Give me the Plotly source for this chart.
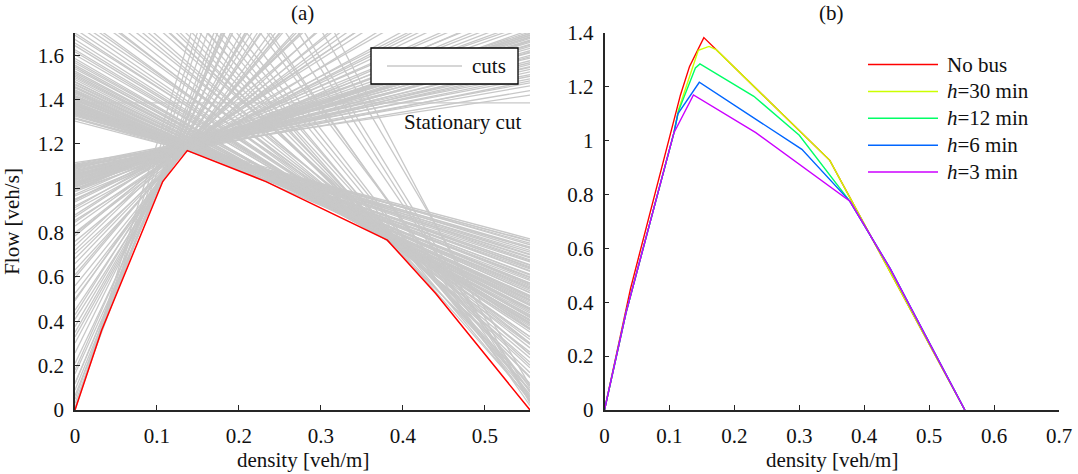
import plotly.graph_objects as go

# ---------------- data ----------------
KJ = 0.555  # jam density (end of left x-axis)

# cuts: flow at density 0 and at density KJ
CUT_Q0 = [
    # rising cuts (free-flow side)
    1.115, 1.095, 1.104, 1.067, 1.080, 1.064, 1.087, 1.043, 1.058, 1.043,
    1.059, 1.025, 1.041, 1.027, 1.042, 1.008, 1.024, 1.010, 1.036, 0.992,
    1.005, 0.985, 0.994, 0.951, 0.950, 0.920, 0.912, 0.855, 0.847, 0.796,
    0.785, 0.704, 0.683, 0.632, 0.597, 0.526, 0.493, 0.409, 0.376, 0.302,
    0.257, 0.163, 0.119, 0.064, 0.048, 0.002, 0.000,
    1.052, 1.033, 1.018, 1.047, 1.028, 1.061, 1.070, 1.076, 1.092, 1.102,
    1.108, 1.015, 0.998, 0.972, 0.965, 0.938, 0.902, 0.880, 0.830, 0.760,
    0.740, 0.660, 0.560, 0.450, 0.330, 0.210, 0.090, 0.030,
    1.098, 1.085, 1.072, 1.055, 1.050, 1.038, 1.022, 1.012, 0.990, 0.945,
    0.870, 0.800, 0.720, 0.610, 0.500, 0.430, 0.350, 0.180, 0.120, 0.010,
    # falling cuts (congested side)
    1.303, 1.317, 1.314, 1.341, 1.338, 1.334, 1.371, 1.358, 1.375, 1.362,
    1.379, 1.390, 1.411, 1.403, 1.444, 1.436, 1.458, 1.481, 1.539, 1.547,
    1.624, 1.671, 1.759, 1.795, 1.891, 1.957, 2.091, 2.176, 2.310, 2.383,
    2.491, 2.707, 2.965, 3.384, 3.919,
    1.325, 1.347, 1.332, 1.356, 1.349, 1.366, 1.352, 1.384, 1.372, 1.395,
    1.381, 1.402, 1.418, 1.425, 1.433, 1.452, 1.470, 1.466, 1.498, 1.512,
    1.528, 1.566, 1.585, 1.602, 1.643, 1.690, 1.718, 1.742, 1.830, 1.862,
    1.920, 2.012, 2.050, 2.140, 2.240, 2.420, 2.600, 2.800, 3.100, 3.600,
    1.313, 1.330, 1.345, 1.342, 1.360, 1.365, 1.380, 1.388, 1.398, 1.408,
    1.415, 1.430, 1.440, 1.455, 1.478, 1.490, 1.505, 1.520, 1.555, 1.575,
    1.615, 1.655, 1.700, 1.780, 1.850, 1.980, 2.100, 2.200, 2.350, 2.550,
    2.900, 3.300,
]
CUT_QJ = [
    1.420, 1.440, 1.493, 1.484, 1.525, 1.536, 1.587, 1.559, 1.592, 1.599,
    1.631, 1.614, 1.646, 1.649, 1.681, 1.664, 1.697, 1.699, 1.742, 1.714,
    1.755, 1.774, 1.828, 1.840, 1.923, 1.975, 2.079, 2.133, 2.237, 2.352,
    2.508, 2.593, 2.739, 2.854, 3.042, 3.193, 3.438, 3.632, 3.876, 4.135,
    4.425, 4.664, 4.953, 5.287, 5.716, 6.114, 6.667,
    1.668, 1.676, 1.683, 1.690, 1.705, 1.658, 1.611, 1.566, 1.548, 1.462,
    1.512, 1.730, 1.790, 1.880, 1.810, 1.950, 2.020, 2.180, 2.290, 2.450,
    2.660, 2.800, 3.100, 3.520, 4.000, 4.520, 5.100, 5.500,
    1.475, 1.505, 1.545, 1.575, 1.620, 1.640, 1.665, 1.690, 1.860, 1.980,
    2.220, 2.400, 2.700, 3.000, 3.300, 3.700, 3.950, 4.800, 5.000, 6.300,
    0.764, 0.761, 0.730, 0.730, 0.699, 0.668, 0.677, 0.636, 0.625, 0.584,
    0.573, 0.556, 0.550, 0.514, 0.528, 0.492, 0.485, 0.453, 0.456, 0.408,
    0.402, 0.366, 0.369, 0.295, 0.280, 0.235, 0.202, 0.120, 0.088, 0.049,
    0.046, 0.040, 0.020, 0.050, 0.030,
    0.752, 0.745, 0.712, 0.703, 0.686, 0.652, 0.655, 0.641, 0.612, 0.608,
    0.597, 0.571, 0.566, 0.538, 0.517, 0.510, 0.498, 0.474, 0.470, 0.438,
    0.430, 0.425, 0.391, 0.416, 0.385, 0.392, 0.352, 0.330, 0.318, 0.261,
    0.302, 0.215, 0.250, 0.168, 0.145, 0.090, 0.070, 0.100, 0.080, 0.110,
    0.772, 0.735, 0.720, 0.690, 0.672, 0.645, 0.628, 0.600, 0.590, 0.562,
    0.545, 0.530, 0.505, 0.496, 0.478, 0.460, 0.452, 0.445, 0.420, 0.405,
    0.395, 0.378, 0.362, 0.330, 0.300, 0.250, 0.190, 0.150, 0.110, 0.060,
    0.060, 0.040,
]
STATIONARY_Q = 1.385

# fundamental diagram from the cuts (panel a)
FD_K = [0, 0.0325, 0.107, 0.137, 0.233, 0.381, 0.44, 0.555]
FD_Q = [0, 0.36, 1.03, 1.17, 1.03, 0.766, 0.525, 0]

# panel b series
NOBUS_K = [0, 0.04, 0.117, 0.131, 0.153, 0.347, 0.555]
NOBUS_Q = [0, 0.45, 1.17, 1.276, 1.383, 0.927, 0]
H30_K = [0, 0.033, 0.107, 0.114, 0.1445, 0.161, 0.172, 0.347, 0.555]
H30_Q = [0, 0.36, 1.03, 1.115, 1.336, 1.35, 1.338, 0.927, 0]
H12_K = [0, 0.033, 0.107, 0.114, 0.14, 0.147, 0.23, 0.30, 0.378, 0.44, 0.555]
H12_Q = [0, 0.36, 1.03, 1.11, 1.27, 1.285, 1.165, 1.02, 0.775, 0.525, 0]
H6_K = [0, 0.033, 0.107, 0.113, 0.146, 0.304, 0.378, 0.44, 0.555]
H6_Q = [0, 0.36, 1.03, 1.10, 1.217, 0.968, 0.775, 0.525, 0]
H3_K = [0, 0.033, 0.107, 0.137, 0.233, 0.378, 0.44, 0.555]
H3_Q = [0, 0.36, 1.03, 1.17, 1.03, 0.775, 0.525, 0]

SERIES_NAMES = ["No bus", "<i>h</i>=30 min", "<i>h</i>=12 min", "<i>h</i>=6 min", "<i>h</i>=3 min"]
SERIES_COLORS = ["#ff0000", "#ccff00", "#00ff66", "#0066ff", "#cc00ff"]

XTICKS_A = [0, 0.1, 0.2, 0.3, 0.4, 0.5]
XTICKS_B = [0, 0.1, 0.2, 0.3, 0.4, 0.5, 0.6, 0.7]
YTICKS_A = [0, 0.2, 0.4, 0.6, 0.8, 1.0, 1.2, 1.4, 1.6]
YTICKS_B = [0, 0.2, 0.4, 0.6, 0.8, 1.0, 1.2, 1.4]


def lbl(v):
    s = ("%.1f" % v)
    return s[:-2] if s.endswith(".0") else s


# ---------------- layout geometry ----------------
W, H = 1078, 474
ML, MR, MT, MB = 75, 19, 33, 64
PW = W - ML - MR
PH = H - MT - MB
DOM_A = [0, (530 - ML) / PW]
DOM_B = [(604.5 - ML) / PW, 1]
FONT = '"Liberation Serif", "Times New Roman", Times, serif'
FS = 21
AXC = "#262626"
CUT_COLOR = "#c8c8c8"


def px(xp):
    return (xp - ML) / PW


def py(yp):
    return (H - MB - yp) / PH


fig = go.Figure()

# cuts as one trace (segments separated by None)
cx, cy = [], []
for q0, qj in zip(CUT_Q0, CUT_QJ):
    cx += [0, KJ, None]
    cy += [q0, qj, None]
fig.add_trace(go.Scatter(x=cx, y=cy, mode="lines", name="cuts",
                         line=dict(color=CUT_COLOR, width=1.3),
                         xaxis="x", yaxis="y", showlegend=False, hoverinfo="skip"))
fig.add_trace(go.Scatter(x=[0, KJ], y=[STATIONARY_Q, STATIONARY_Q], mode="lines",
                         name="Stationary cut",
                         line=dict(color=CUT_COLOR, width=1.3), showlegend=False,
                         xaxis="x", yaxis="y", hoverinfo="skip"))
fig.add_trace(go.Scatter(x=FD_K, y=FD_Q, mode="lines", showlegend=False, name="FD",
                         line=dict(color="#ff0000", width=1.5), xaxis="x", yaxis="y"))

for name, color, k, q in zip(SERIES_NAMES, SERIES_COLORS,
                             [NOBUS_K, H30_K, H12_K, H6_K, H3_K],
                             [NOBUS_Q, H30_Q, H12_Q, H6_Q, H3_Q]):
    fig.add_trace(go.Scatter(x=k, y=q, mode="lines", name=name, showlegend=False,
                             line=dict(color=color, width=1.4),
                             xaxis="x2", yaxis="y2"))

axis_common = dict(showline=True, linecolor=AXC, linewidth=1.5, ticks="inside",
                   ticklen=5, tickwidth=1, tickcolor=AXC, showgrid=False,
                   zeroline=False, automargin=False,
                   tickfont=dict(family=FONT, size=FS, color="#111"))

shapes = []
annotations = []

# legend of panel (a): boxed, one entry
shapes.append(dict(type="rect", xref="paper", yref="paper",
                   x0=px(371), x1=px(518), y0=py(84), y1=py(48),
                   line=dict(color="#000", width=1.3), fillcolor="white", layer="above"))
shapes.append(dict(type="line", xref="paper", yref="paper",
                   x0=px(387), x1=px(462), y0=py(66), y1=py(66),
                   line=dict(color=CUT_COLOR, width=1.3), layer="above"))
annotations.append(dict(text="cuts", x=px(470), y=py(66), xref="paper", yref="paper",
                        showarrow=False, xanchor="left", yanchor="middle",
                        font=dict(family=FONT, size=FS, color="#111")))

# legend of panel (b): no box
for i, (name, color) in enumerate(zip(SERIES_NAMES, SERIES_COLORS)):
    yc = 64.5 + 26.9 * i
    shapes.append(dict(type="line", xref="paper", yref="paper",
                       x0=px(868), x1=px(938), y0=py(yc), y1=py(yc),
                       line=dict(color=color, width=1.5), layer="above"))
    annotations.append(dict(text=name, x=px(945), y=py(yc), xref="paper", yref="paper",
                            showarrow=False, xanchor="left", yanchor="middle",
                            font=dict(family=FONT, size=FS, color="#111")))

# panel titles, axis titles, stationary label
annotations += [
    dict(text="(a)", x=sum(DOM_A) / 2, y=py(13), xref="paper", yref="paper",
         showarrow=False, xanchor="center", yanchor="middle", font=dict(family=FONT, size=FS, color="#111")),
    dict(text="(b)", x=sum(DOM_B) / 2, y=py(13), xref="paper", yref="paper",
         showarrow=False, xanchor="center", yanchor="middle", font=dict(family=FONT, size=FS, color="#111")),
    dict(text="density [veh/m]", x=sum(DOM_A) / 2, y=py(460), xref="paper", yref="paper",
         showarrow=False, xanchor="center", yanchor="middle", font=dict(family=FONT, size=FS, color="#111")),
    dict(text="density [veh/m]", x=sum(DOM_B) / 2, y=py(460), xref="paper", yref="paper",
         showarrow=False, xanchor="center", yanchor="middle", font=dict(family=FONT, size=FS, color="#111")),
    dict(text="Stationary cut", x=0.546, y=1.30, xref="x", yref="y",
         showarrow=False, xanchor="right", yanchor="middle", font=dict(family=FONT, size=FS, color="#111")),
]

fig.update_layout(
    width=W, height=H,
    margin=dict(l=ML, r=MR, t=MT, b=MB),
    paper_bgcolor="white", plot_bgcolor="white",
    font=dict(family=FONT, size=FS, color="#111"),
    showlegend=False,
    xaxis=dict(domain=DOM_A, range=[0, KJ], anchor="y",
               tickvals=XTICKS_A, ticktext=[lbl(v) for v in XTICKS_A],
               ticklabelstandoff=6, **axis_common),
    yaxis=dict(domain=[0, 1], range=[0, 1.7], anchor="x",
               tickvals=YTICKS_A, ticktext=[lbl(v) for v in YTICKS_A],
               ticklabelstandoff=5,
               title=dict(text="Flow [veh/s]", font=dict(family=FONT, size=FS, color="#111"), standoff=12),
               **axis_common),
    xaxis2=dict(domain=DOM_B, range=[0, 0.7], anchor="y2",
                tickvals=XTICKS_B, ticktext=[lbl(v) for v in XTICKS_B],
                ticklabelstandoff=6, **axis_common),
    yaxis2=dict(domain=[0, 1], range=[0, 1.4], anchor="x2",
                tickvals=YTICKS_B, ticktext=[lbl(v) for v in YTICKS_B],
                ticklabelstandoff=5, **axis_common),
    shapes=shapes,
    annotations=annotations,
)

fig.write_html("out.html", config={"displayModeBar": False},
               post_script="document.body.style.margin='0px';document.body.style.padding='0px';")
